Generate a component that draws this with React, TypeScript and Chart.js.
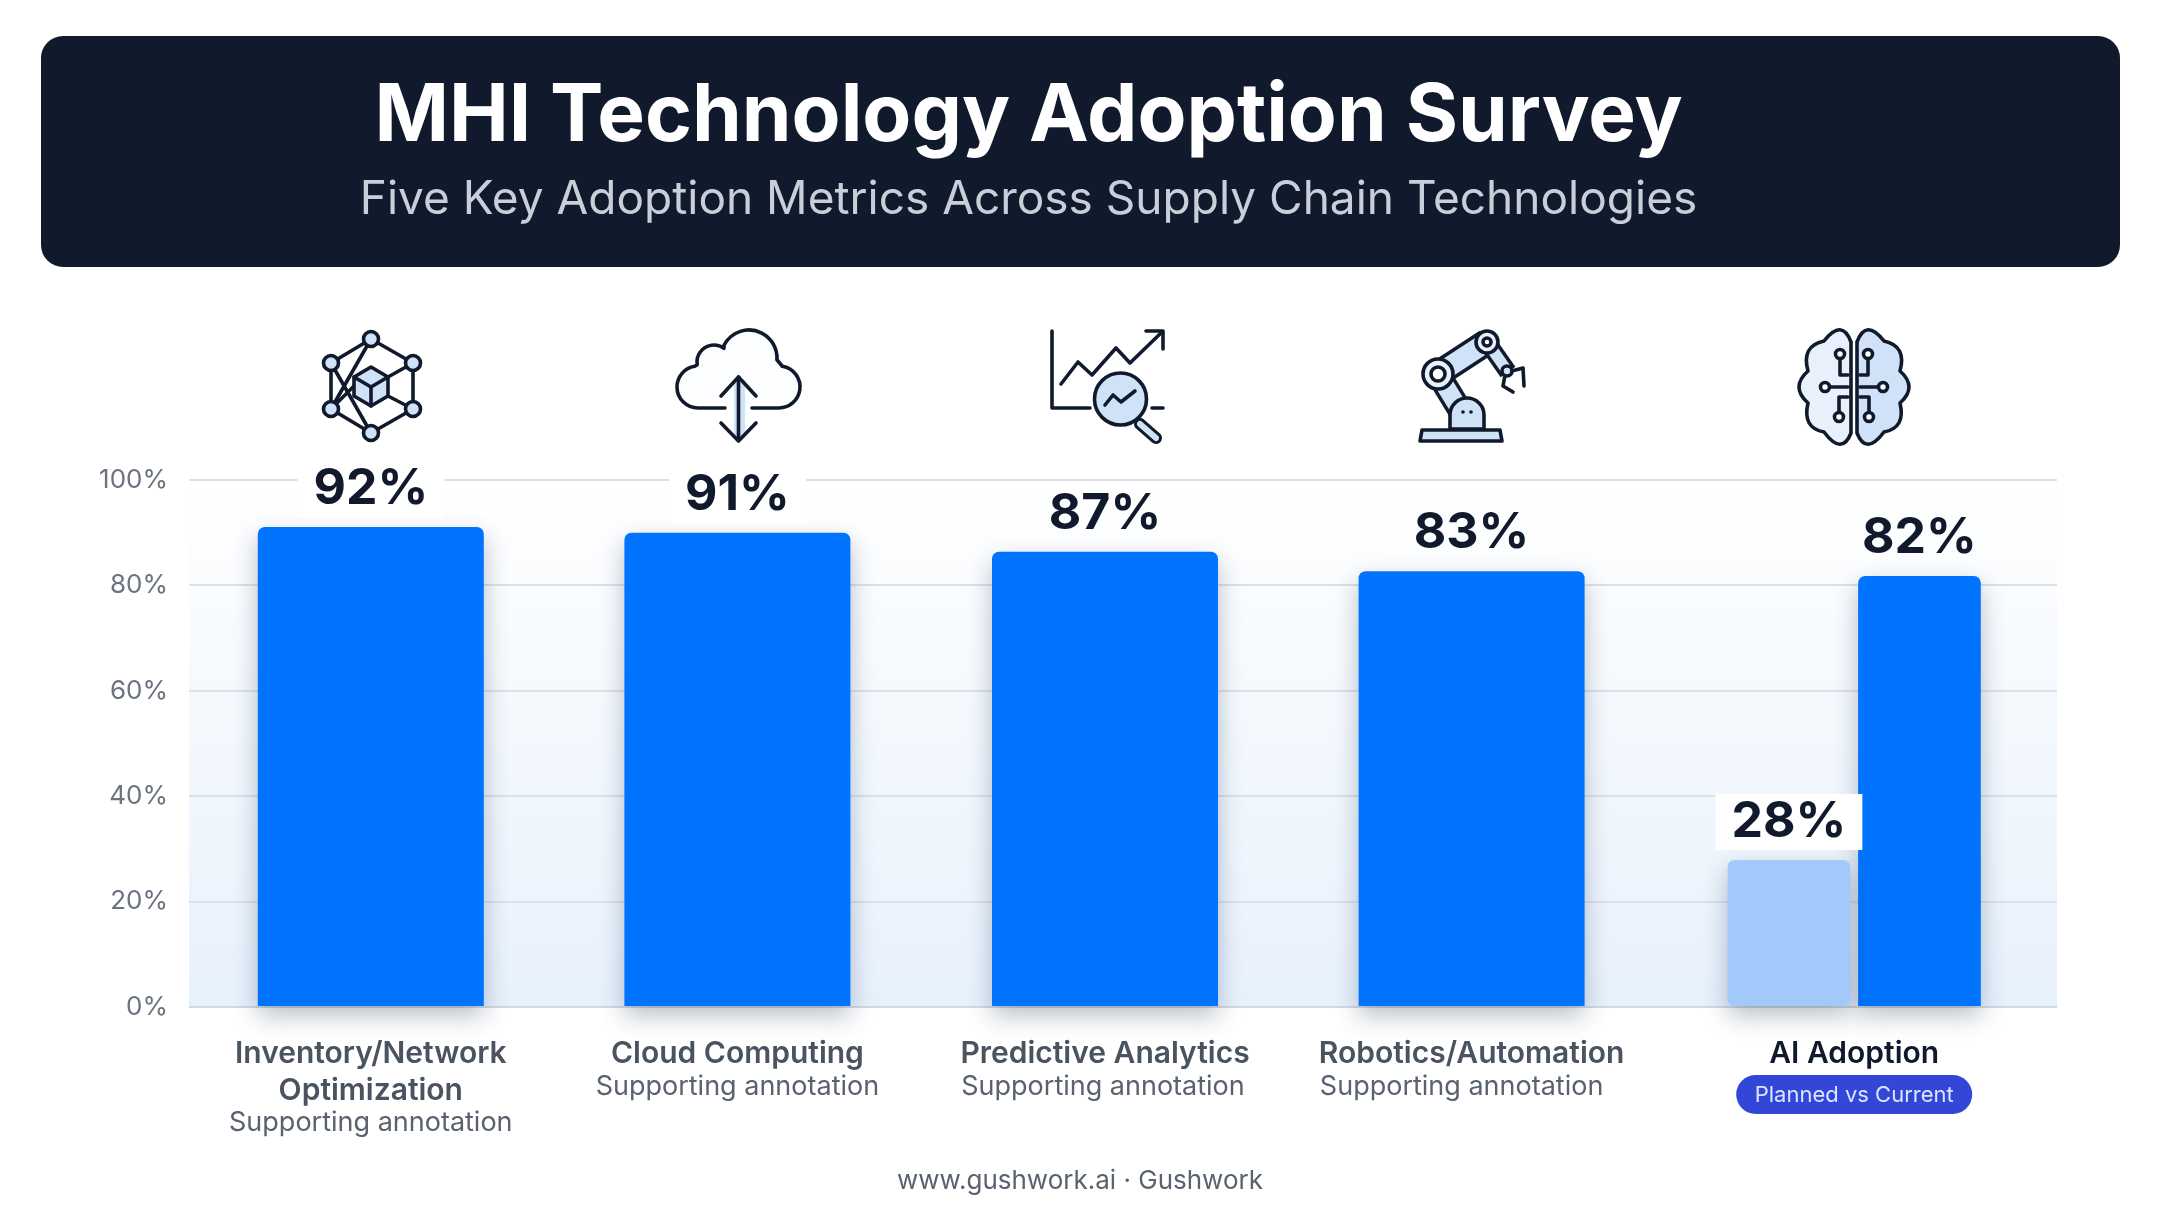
import React, { useEffect, useRef } from "react";
import { Chart, registerables, CategoryScale } from "chart.js";

// ---- data ----
const categories: (string | string[])[] = [
  ["Inventory/Network", "Optimization"],
  "Cloud Computing",
  "Predictive Analytics",
  "Robotics/Automation",
  "AI Adoption",
];
const annotations = ["Supporting annotation", "Supporting annotation", "Supporting annotation", "Supporting annotation"];
const badgeText = "Planned vs Current";
// Bar heights, printed figures kept separately.
const plannedHeights = [null, null, null, null, 27.9];
const currentHeights = [91.1, 90, 86.4, 82.7, 81.8];
const plannedLabels = ["", "", "", "", "28%"];
const currentLabels = ["92%", "91%", "87%", "83%", "82%"];
const yTicks = [0, 20, 40, 60, 80, 100];
const titleText = "MHI Technology Adoption Survey";
const subtitleText = "Five Key Adoption Metrics Across Supply Chain Technologies";
const footerText = "www.gushwork.ai · Gushwork";

// ---- layout / style ----
const W = 2160, H = 1206;
const FONT = "Inter";
const INK = "#111a2c", TINT = "#cfe2f8", TINT2 = "#e8f1fb";
const categoryNudge = [-5, -12, -18, -25, -16];
const annotationNudge = [0, 0, -2, -10];

class NudgedCategory extends CategoryScale {
  static id = "nudgedCategory";
  static defaults = CategoryScale.defaults;
  getPixelForValue(value: any) {
    const px = super.getPixelForValue(value);
    const i = typeof value === "number" ? Math.round(value) : 0;
    return px + (categoryNudge[i] || 0);
  }
}

Chart.register(...registerables, NudgedCategory);

function rr(c: any, x: number, y: number, w: number, h: number, r: number) {
  c.beginPath();
  c.roundRect(x, y, w, h, r);
}
function line(c: any, pts: number[][]) {
  c.beginPath();
  pts.forEach((p, i) => (i ? c.lineTo(p[0], p[1]) : c.moveTo(p[0], p[1])));
  c.stroke();
}
function disc(c: any, x: number, y: number, r: number, fill: string) {
  c.beginPath();
  c.arc(x, y, r, 0, Math.PI * 2);
  c.fillStyle = fill;
  c.fill();
  c.stroke();
}

function iconNetwork(c: any) {
  const t = [371, 339], ul = [331, 363], ur = [413, 363], ll = [331, 409], lr = [413, 409], b = [371, 433];
  line(c, [t, ur, lr, b, ll, ul, t]);
  line(c, [t, ll]);
  line(c, [ul, b]);
  line(c, [ll, [354, 386]]);
  line(c, [ur, [388, 377]]);
  line(c, [lr, [388, 396]]);
  c.beginPath();
  c.moveTo(371, 367); c.lineTo(388, 377); c.lineTo(388, 396); c.lineTo(371, 406); c.lineTo(354, 396); c.lineTo(354, 377); c.closePath();
  c.fillStyle = TINT; c.fill(); c.stroke();
  line(c, [[354, 377], [371, 387], [388, 377]]);
  line(c, [[371, 387], [371, 406]]);
  [t, ul, ur, ll, lr, b].forEach((p) => disc(c, p[0], p[1], 7.5, TINT));
}
function iconCloud(c: any) {
  c.beginPath();
  c.moveTo(725, 408);
  c.lineTo(698, 408);
  c.arc(698, 387, 21, Math.PI / 2, Math.PI * 1.45);
  c.arc(714, 362, 17, Math.PI * 0.95, Math.PI * 1.7);
  c.arc(749, 358, 28, Math.PI * 1.15, Math.PI * 2.02);
  c.arc(779, 387, 21, Math.PI * 1.55, Math.PI * 2.5);
  c.lineTo(752, 408);
  c.fillStyle = "#fbfdff"; c.fill(); c.stroke();
  c.fillStyle = TINT; c.fillRect(734, 380, 11, 56);
  line(c, [[738.5, 377], [738.5, 440]]);
  line(c, [[721, 396], [738.5, 377], [756, 396]]);
  line(c, [[721, 423], [738.5, 441], [756, 423]]);
}
function iconAnalytics(c: any) {
  line(c, [[1052, 331], [1052, 408], [1090, 408]]);
  line(c, [[1152, 408], [1163, 408]]);
  line(c, [[1061, 384], [1078, 362], [1092, 375], [1116, 348], [1130, 363], [1162, 332]]);
  line(c, [[1146, 331], [1163, 331], [1163, 349]]);
  c.save(); c.lineWidth = 12; line(c, [[1140, 424], [1156, 438]]); c.strokeStyle = TINT; c.lineWidth = 6; line(c, [[1140, 424], [1156, 438]]); c.restore();
  disc(c, 1120.5, 399, 26, TINT);
  line(c, [[1105, 405], [1113, 395], [1121, 402], [1135, 391]]);
}
function iconRobot(c: any) {
  const limb = (a: number[], b: number[], w: number) => {
    c.save(); c.lineWidth = w + 7; c.lineCap = "butt"; line(c, [a, b]);
    c.strokeStyle = TINT; c.lineWidth = w; line(c, [a, b]); c.restore();
  };
  limb([1460, 410], [1438, 374], 18);
  limb([1438, 374], [1487, 342], 20);
  limb([1487, 342], [1508, 372], 11);
  line(c, [[1508, 372], [1523, 368], [1524, 386]]);
  line(c, [[1505, 375], [1503, 386], [1513, 392]]);
  disc(c, 1438, 374, 15, TINT2);
  disc(c, 1438, 374, 7, "#ffffff");
  disc(c, 1487, 342, 11, TINT2);
  disc(c, 1487, 342, 4, "#ffffff");
  disc(c, 1507, 371, 5, TINT);
  c.beginPath();
  c.moveTo(1450, 429); c.lineTo(1450, 415); c.arc(1467, 415, 17, Math.PI, 0); c.lineTo(1484, 429); c.closePath();
  c.fillStyle = TINT; c.fill(); c.stroke();
  c.fillStyle = INK;
  [1463, 1471].forEach((x) => { c.beginPath(); c.arc(x, 412, 1.8, 0, 7); c.fill(); });
  c.beginPath();
  c.moveTo(1420, 441); c.lineTo(1422, 430); c.lineTo(1500, 430); c.lineTo(1502, 441); c.closePath();
  c.fillStyle = TINT; c.fill(); c.stroke();
}
function brainHalf(c: any, fill: string) {
  c.beginPath();
  c.moveTo(1851, 342);
  c.quadraticCurveTo(1842, 318, 1824, 341);
  c.quadraticCurveTo(1801, 346, 1808, 371);
  c.quadraticCurveTo(1790, 387, 1808, 403);
  c.quadraticCurveTo(1802, 428, 1824, 432);
  c.quadraticCurveTo(1842, 456, 1851, 433);
  c.closePath();
  c.fillStyle = fill; c.fill(); c.stroke();
  line(c, [[1840, 358], [1840, 375], [1848, 375]]);
  line(c, [[1830, 387], [1848, 387]]);
  line(c, [[1848, 397], [1839, 397], [1839, 412]]);
  disc(c, 1840, 354, 4.5, "#ffffff");
  disc(c, 1825, 387, 4.5, "#ffffff");
  disc(c, 1839, 417, 4.5, "#ffffff");
}
function iconBrain(c: any) {
  brainHalf(c, TINT2);
  c.save();
  c.translate(2 * 1854, 0);
  c.scale(-1, 1);
  brainHalf(c, TINT);
  c.restore();
}
const icons = [iconNetwork, iconCloud, iconAnalytics, iconRobot, iconBrain];

const chromePlugin = {
  id: "chrome",
  beforeDraw(chart: any) {
    const { ctx: c, chartArea: a } = chart;
    c.save();
    c.fillStyle = "#ffffff";
    c.fillRect(0, 0, W, H);
    const g = c.createLinearGradient(0, a.top, 0, a.bottom);
    g.addColorStop(0, "#ffffff");
    g.addColorStop(1, "#e7f1fc");
    c.fillStyle = g;
    c.fillRect(a.left, a.top, a.right - a.left, a.bottom - a.top);
    c.fillStyle = "#101a2c";
    rr(c, 41, 36, 2079, 231, 22);
    c.fill();
    c.restore();
  },
  afterDraw(chart: any) {
    const c = chart.ctx;
    const xs = chart.scales.x;
    c.save();
    // icons
    c.strokeStyle = INK;
    c.lineWidth = 3.6;
    c.lineCap = "round";
    c.lineJoin = "round";
    icons.forEach((fn) => fn(c));
    // annotations
    c.textAlign = "center";
    c.textBaseline = "middle";
    c.font = `400 27px ${FONT}`;
    c.fillStyle = "#59626e";
    annotations.forEach((t, i) => {
      const y = i === 0 ? 1123 : 1087;
      c.fillText(t, xs.getPixelForValue(i) + annotationNudge[i], y);
    });
    // badge
    const bx = xs.getPixelForValue(4);
    c.fillStyle = "#3247d8";
    rr(c, bx - 118, 1075, 236, 39, 19.5);
    c.fill();
    c.fillStyle = "#dde5ff";
    c.font = `400 22px ${FONT}`;
    c.fillText(badgeText, bx, 1095);
    // footer
    c.fillStyle = "#59626e";
    c.font = `400 26px ${FONT}`;
    c.fillText(footerText, 1080, 1181);
    c.restore();
  },
};

const shadowPlugin = {
  id: "barShadow",
  beforeDatasetDraw(chart: any) {
    const c = chart.ctx;
    c.save();
    c.shadowColor = "rgba(25,45,80,0.30)";
    c.shadowBlur = 24;
    c.shadowOffsetY = 10;
  },
  afterDatasetDraw(chart: any) {
    chart.ctx.restore();
  },
};

const valueLabelPlugin = {
  id: "valueLabels",
  afterDatasetsDraw(chart: any) {
    const c = chart.ctx;
    const ticks = chart.scales.y.ticks.map((t: any) => chart.scales.y.getPixelForValue(t.value));
    c.save();
    c.textAlign = "center";
    c.textBaseline = "middle";
    c.font = `700 50px ${FONT}`;
    [plannedLabels, currentLabels].forEach((labels, ds) => {
      chart.getDatasetMeta(ds).data.forEach((bar: any, i: number) => {
        const text = labels[i];
        if (!text) return;
        const y = bar.y - 38;
        const w = c.measureText(text).width;
        // the figure interrupts a gridline when it sits on one
        if (ticks.some((t: number) => t > y - 28 && t < y + 28)) {
          c.fillStyle = "#ffffff";
          c.fillRect(bar.x - w / 2 - 16, y - 28, w + 32, 56);
        }
        c.fillStyle = "#111a2c";
        c.fillText(text, bar.x, y);
      });
    });
    c.restore();
  },
};

export default function App() {
  const ref = useRef<HTMLCanvasElement>(null);
  useEffect(() => {
    document.body.style.margin = "0";
    document.body.style.background = "#ffffff";
    const barCommon = {
      categoryPercentage: 0.712,
      barPercentage: 0.94,
      maxBarThickness: 226,
      skipNull: true,
      clip: false,
      borderSkipped: false,
    };
    const chart = new Chart(ref.current as HTMLCanvasElement, {
      type: "bar",
      plugins: [chromePlugin, shadowPlugin, valueLabelPlugin],
      data: {
        labels: categories as any,
        datasets: [
          {
            label: "Planned",
            data: plannedHeights as any,
            backgroundColor: "#a3c9fa",
            borderRadius: 7,
            ...barCommon,
          },
          {
            label: "Current",
            data: currentHeights,
            backgroundColor: "#0074ff",
            borderRadius: { topLeft: 7, topRight: 7, bottomLeft: 0, bottomRight: 0 },
            ...barCommon,
          },
        ] as any,
      },
      options: {
        animation: false,
        responsive: false,
        devicePixelRatio: 1,
        layout: { padding: { left: 0, right: 103, top: 0, bottom: 0 } },
        plugins: {
          legend: { display: false },
          tooltip: { enabled: false },
          title: {
            display: true,
            text: titleText,
            color: "#ffffff",
            font: { family: FONT, size: 80, weight: "700", lineHeight: 1.2 },
            padding: { top: 69, bottom: 0 },
          },
          subtitle: {
            display: true,
            text: subtitleText,
            color: "#c8cfd8",
            font: { family: FONT, size: 46, weight: "400", lineHeight: 1.2 },
            padding: { top: 8, bottom: 251.8 },
          },
        },
        scales: {
          x: {
            type: "nudgedCategory",
            offset: true,
            afterFit: (s: any) => { s.height = H - 1007; },
            grid: { display: false },
            border: { display: false },
            ticks: {
              autoSkip: false,
              minRotation: 0,
              maxRotation: 0,
              padding: 20,
              color: (ctx: any) => (ctx.index === 4 ? "#111a2c" : "#4a5360"),
              font: { family: FONT, size: 30, weight: "600", lineHeight: 1.24 },
            },
          },
          y: {
            min: 0,
            max: 100,
            afterFit: (s: any) => { s.width = 189; },
            afterBuildTicks: (s: any) => { s.ticks = yTicks.map((value) => ({ value })); },
            grid: {
              color: (ctx: any) => (ctx.tick && ctx.tick.value === 0 ? "#d2d9e2" : "#dde1e7"),
              lineWidth: 2,
              drawTicks: false,
            },
            border: { display: false },
            ticks: {
              padding: 21,
              color: "#6b7280",
              font: { family: FONT, size: 26, weight: "400" },
              callback: (v: any) => `${v}%`,
            },
          },
        },
      } as any,
    });
    return () => chart.destroy();
  }, []);
  return <canvas ref={ref} width={W} height={H} style={{ display: "block", width: W, height: H }} />;
}
